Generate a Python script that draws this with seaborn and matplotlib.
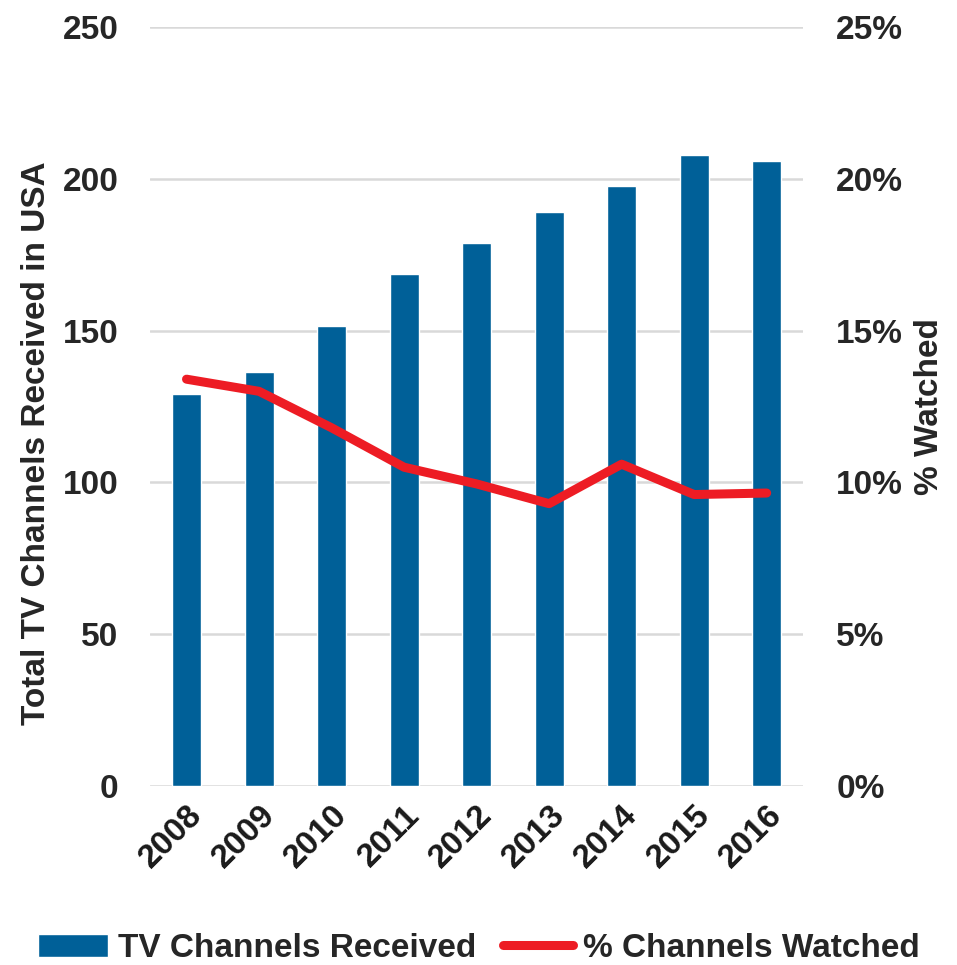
import numpy as np
import pandas as pd
import matplotlib
matplotlib.use('Agg')
import matplotlib.pyplot as plt
import seaborn as sns
from matplotlib.patches import Patch
from matplotlib.lines import Line2D

years = ['2008', '2009', '2010', '2011', '2012', '2013', '2014', '2015', '2016']
channels_received = [129, 136.5, 151.5, 168.5, 179, 189, 197.5, 208, 206]
pct_watched = [13.4, 13.0, 11.8, 10.5, 9.95, 9.3, 10.6, 9.6, 9.65]

BLUE = '#006098'
RED = '#ED1C24'
TXT = '#262626'
FS = 24

sns.set_theme(style='white')
plt.rcParams['font.family'] = ['Liberation Sans', 'DejaVu Sans']
plt.rcParams['font.weight'] = 'bold'

df = pd.DataFrame({'Year': years, 'Received': channels_received, 'Watched': pct_watched})

fig = plt.figure(figsize=(9.57, 9.65), dpi=100)
ax = fig.add_axes([0.157, 0.1855, 0.682, 0.7865])

sns.barplot(data=df, x='Year', y='Received', color=BLUE, width=0.4, saturation=1, ax=ax)
ax.set_ylim(0, 250)
ax.set_xlim(-0.5, len(years) - 0.5)
ax.set_yticks(range(0, 251, 50))
ax.yaxis.grid(True, color='#d9d9d9', lw=1.8)
ax.set_axisbelow(True)
for s in ax.spines.values():
    s.set_visible(False)
ax.set_xlabel('')
ax.set_ylabel('Total TV Channels Received in USA', fontsize=FS, fontweight='bold', color=TXT)
ax.yaxis.set_label_coords(-0.15, 0.452)
ax.tick_params(axis='y', length=0, labelsize=FS, labelcolor=TXT, pad=23)
ax.tick_params(axis='x', length=0, labelsize=FS, labelcolor='#1a1a1a', pad=10)
for lab in ax.get_xticklabels():
    lab.set_rotation(45)
    lab.set_ha('right')
    lab.set_rotation_mode('anchor')
    lab.set_fontweight('bold')
for lab in ax.get_yticklabels():
    lab.set_fontweight('bold')

ax2 = ax.twinx()
sns.lineplot(x=np.arange(len(years)), y=df['Watched'], color=RED, lw=6.5, ax=ax2,
             solid_capstyle='round', solid_joinstyle='round')
ax2.set_ylim(0, 25)
ax2.set_yticks(range(0, 26, 5))
ax2.set_yticklabels([f'{v}%' for v in range(0, 26, 5)])
ax2.grid(False)
for s in ax2.spines.values():
    s.set_visible(False)
ax2.set_ylabel('% Watched', fontsize=FS, fontweight='bold', color=TXT, labelpad=8)
ax2.tick_params(axis='y', length=0, labelsize=FS, labelcolor=TXT, pad=24)
for lab in ax2.get_yticklabels():
    lab.set_fontweight('bold')
    lab.set_ha('left')

handles = [Patch(facecolor=BLUE, label='TV Channels Received'),
           Line2D([0], [0], color=RED, lw=6.5, solid_capstyle='round', label='% Channels Watched')]
fig.legend(handles=handles, loc='center', bbox_to_anchor=(0.5, 0.017), ncol=2, frameon=False,
           prop={'size': FS, 'weight': 'bold'}, handlelength=2.1, handletextpad=0.3,
           columnspacing=0.8, labelcolor=TXT)

fig.savefig('out.png', dpi=100)
plt.close(fig)
